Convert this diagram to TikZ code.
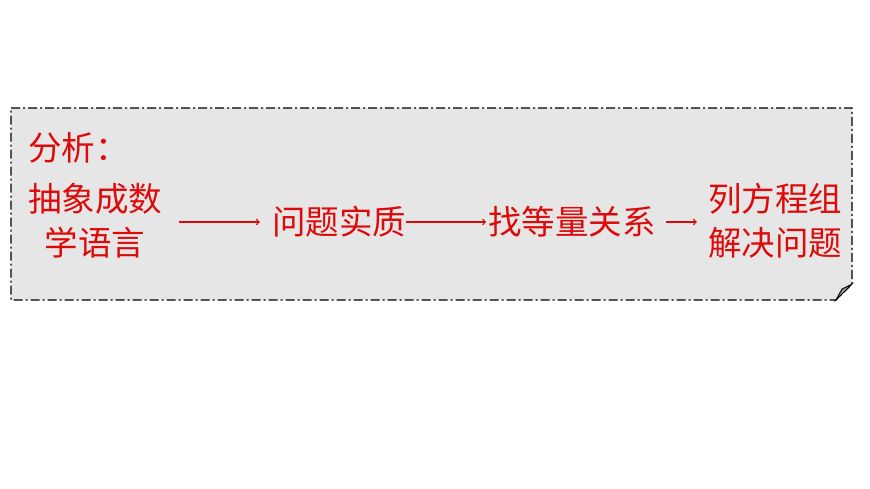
\documentclass[tikz,border=0pt]{standalone}
\usepackage{fontspec}
\newfontfamily\cjk{Noto Sans CJK SC}
\definecolor{mred}{RGB}{222,10,10}
\definecolor{boxgrey}{RGB}{230,230,230}
\definecolor{foldgrey}{RGB}{150,150,150}
\begin{document}
\begin{tikzpicture}[
	x=1pt, y=-1pt,
	word/.style={inner sep=0pt, text=mred, font=\cjk\fontsize{33.5}{44}\selectfont, align=center},
	flow/.style={->, line width=1.4pt, color=mred},
	]
	\useasboundingbox (0,0) rectangle (870,489);
	
	%box
	\draw[dash pattern=on 9pt off 3pt on 2pt off 3pt, line width=1.3pt, fill=boxgrey] (11,108) -- (852,108) -- (852,284) -- (836,300) -- (11,300) -- cycle;
	\draw[line width=0.9pt, fill=foldgrey] (836,300) -- (842,289) -- (852,284) -- cycle;
	
	%text
	\node[word, anchor=west] (fenxi) at (28,148) {分析：};
	\node[word] (shuxue) at (95,221) {抽象成数\\学语言};
	\node[word] (shizhi) at (339,222) {问题实质};
	\node[word] (guanxi) at (572,222) {找等量关系};
	\node[word] (fangcheng) at (775,221) {列方程组\\解决问题};
	
	%arrows
	\draw[flow, shorten <=17pt, shorten >=12pt] (shuxue.east |- shizhi) -- (shizhi.west);
	\draw[flow, shorten >=2pt] (shizhi.east) -- (guanxi.west);
	\draw[flow, shorten <=10pt, shorten >=11pt] (guanxi.east) -- (fangcheng.west |- guanxi);
\end{tikzpicture}
\end{document}
